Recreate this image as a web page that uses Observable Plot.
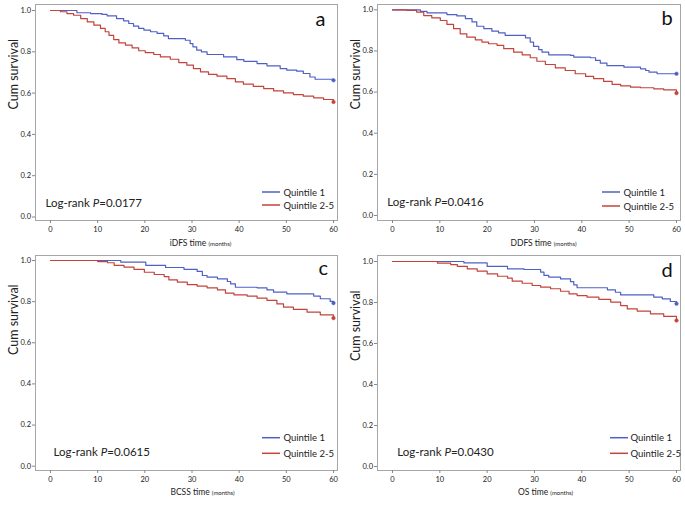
<!DOCTYPE html>
<html><head><meta charset="utf-8">
<script src="https://cdn.jsdelivr.net/npm/d3@7"></script>
<script src="https://cdn.jsdelivr.net/npm/@observablehq/plot@0.6"></script>
<style>
body{margin:0;background:#fff;}
#wrap{position:relative;width:685px;height:523px;background:#fff;}
#wrap > svg{position:absolute;}
</style></head><body><div id="wrap"></div>
<script>
// ---------- data ----------
const panelLetters = ["a", "b", "c", "d"];
const xTitles = ["iDFS time", "DDFS time", "BCSS time", "OS time"];
const xUnit = "(months)";
const pValues = ["0.0177", "0.0416", "0.0615", "0.0430"];
const seriesNames = ["Quintile 1", "Quintile 2-5"];
const yTitle = "Cum survival";
const xTicks = [0, 10, 20, 30, 40, 50, 60];
const yTicks = [0, 0.2, 0.4, 0.6, 0.8, 1.0];

const aQ1Time = [0,5.6,8.5,10.9,12,14,15.5,16.6,17.6,18.7,19.8,21.2,22.6,24,25,28.6,29.6,30.2,31,32,33.2,36.7,39.5,41,43.8,45.9,48.7,50.1,52.2,53.6,55,56.1,60];
const aQ1Surv = [1,0.989,0.985,0.981,0.974,0.961,0.95,0.937,0.924,0.913,0.905,0.897,0.889,0.877,0.864,0.856,0.84,0.824,0.808,0.8,0.787,0.775,0.762,0.754,0.743,0.732,0.719,0.711,0.706,0.695,0.678,0.667,0.662];
const aQ25Time = [0,2.1,3.5,4.9,6.4,7.8,9.2,10.6,11.6,12.4,13.4,14.5,15.9,17.3,18.7,20.1,21.9,23.3,25.4,27.2,28.9,30.3,31.8,33.5,35.3,37.4,39.2,40.9,43,45.2,47.3,49.4,51.5,53.6,55.8,57.9,60];
const aQ25Surv = [1,0.994,0.985,0.977,0.961,0.945,0.929,0.913,0.897,0.88,0.859,0.843,0.832,0.819,0.805,0.796,0.787,0.775,0.764,0.748,0.735,0.719,0.703,0.691,0.682,0.67,0.654,0.643,0.633,0.622,0.611,0.601,0.593,0.585,0.577,0.569,0.557];

const bQ1Time = [0,5.9,7.3,11.5,13.6,15.4,16.8,17.8,19.3,21,22.4,23.8,28.1,29.1,29.8,30.9,31.6,33,37.6,38.3,41.8,42.9,43.9,45.3,48.9,52.4,53.5,54.2,55.9,60];
const bQ1Surv = [1,0.992,0.985,0.977,0.97,0.957,0.941,0.92,0.908,0.896,0.888,0.876,0.864,0.843,0.822,0.806,0.794,0.781,0.778,0.77,0.767,0.754,0.741,0.729,0.721,0.713,0.705,0.697,0.689,0.689];
const bQ25Time = [0,3,5.1,6.6,8.3,10.1,11.5,12.9,14.3,15.7,17.5,18.9,20.3,22.1,23.5,25.6,27.4,29.1,30.5,32.3,34.4,36.5,38.6,40.8,42.5,44.6,46.4,48.2,50.3,52.4,55.2,57.3,60];
const bQ25Surv = [1,0.997,0.989,0.972,0.961,0.948,0.929,0.908,0.883,0.867,0.854,0.843,0.835,0.827,0.811,0.794,0.781,0.767,0.75,0.734,0.718,0.705,0.689,0.676,0.665,0.652,0.637,0.63,0.624,0.621,0.616,0.611,0.595];

const cQ1Time = [0,14.9,20.2,24.4,28.3,31.1,32.2,33.2,35.4,37.5,38.2,39.2,43.8,45.9,47.3,50.1,55.8,57.2,59.3,60];
const cQ1Surv = [1,0.992,0.976,0.966,0.957,0.947,0.927,0.919,0.911,0.898,0.886,0.87,0.867,0.857,0.846,0.838,0.827,0.814,0.801,0.793];
const cQ25Time = [0,10,12.1,13.5,15.6,17.7,19.9,22,24.1,25.1,26.9,29,31.1,33.2,35.4,37.1,38.9,41.7,43.8,45.9,48,49.4,51.5,54.4,57.2,60];
const cQ25Surv = [1,0.995,0.989,0.976,0.968,0.957,0.943,0.932,0.922,0.906,0.895,0.883,0.875,0.867,0.857,0.841,0.833,0.827,0.817,0.806,0.789,0.773,0.762,0.749,0.736,0.72];

const dQ1Time = [0,15.1,20,24.3,27.8,31.3,32,33,35.5,37.6,38.3,39,45.4,47.1,48.2,55.2,57,58.7,60];
const dQ1Surv = [1,0.993,0.976,0.964,0.961,0.948,0.932,0.924,0.915,0.902,0.886,0.872,0.862,0.85,0.837,0.826,0.818,0.805,0.794];
const dQ25Time = [0,9.5,12.3,13.7,15.8,17.9,20,22.2,24.3,25.3,27.4,29.5,31.3,33.4,35.5,37.3,39,41.1,43.6,46.1,48.2,49.6,51.7,54.5,57.3,60];
const dQ25Surv = [1,0.992,0.985,0.976,0.964,0.953,0.94,0.928,0.919,0.904,0.894,0.883,0.875,0.867,0.855,0.842,0.834,0.826,0.815,0.802,0.785,0.769,0.758,0.745,0.732,0.712];

// ---------- layout (pixels) ----------
const layout = [
  {left:0,   top:0,   width:342, height:253, mt:4, mb:33, insetT:6,   insetB:3.5, insetL:15, insetR:4, letter:[-17,15],   logrank:[10,-17],   xdx:14,   xdy:23, ydy:-3,
   leg:{x1:-75, x2:-57, tx:-54, y:[-28,-15]}},
  {left:342, top:0,   width:343, height:253, mt:4, mb:33, insetT:5.3, insetB:5,   insetL:15, insetR:4, letter:[-13.3,14], logrank:[9.7,-18.3], xdx:14.5, xdy:23, ydy:-3,
   leg:{x1:-78, x2:-60, tx:-57, y:[-28,-14]}},
  {left:0,   top:253, width:342, height:270, mt:2, mb:53, insetT:5,   insetB:4.3, insetL:15, insetR:4, letter:[-14.3,13], logrank:[18,-18.3], xdx:16,   xdy:22, ydy:-8,
   leg:{x1:-75, x2:-57, tx:-54, y:[-32.3,-16.7]}},
  {left:342, top:253, width:343, height:270, mt:2, mb:53, insetT:6,   insetB:4,   insetL:15, insetR:4, letter:[-13.3,15], logrank:[19.7,-18.3], xdx:16.5, xdy:22, ydy:-2,
   leg:{x1:-70, x2:-52, tx:-50, y:[-32.3,-16.7]}}
];
const colors = ["#4f60c4", "#c4433b"];
const FONT = "Lato, 'Open Sans', sans-serif";

const curves = [
  [[aQ1Time, aQ1Surv], [aQ25Time, aQ25Surv]],
  [[bQ1Time, bQ1Surv], [bQ25Time, bQ25Surv]],
  [[cQ1Time, cQ1Surv], [cQ25Time, cQ25Surv]],
  [[dQ1Time, dQ1Surv], [dQ25Time, dQ25Surv]]
];

const svgns = "http://www.w3.org/2000/svg";
const wrap = document.getElementById("wrap");

curves.forEach((pair, i) => {
  const L = layout[i];
  const rows = [];
  pair.forEach(([ts, ss], k) => ts.forEach((t, j) => rows.push({t, s: ss[j], series: seriesNames[k]})));
  const ends = pair.map(([ts, ss], k) => ({t: ts[ts.length - 1], s: ss[ss.length - 1], series: seriesNames[k]}));
  const logText = "Log-rank P=" + pValues[i];
  const xTitle = xTitles[i] + " " + xUnit;

  const svg = Plot.plot({
    width: L.width, height: L.height,
    marginLeft: 35, marginRight: 5, marginTop: L.mt, marginBottom: L.mb,
    style: {fontFamily: FONT, fontSize: "7.5px", color: "#222", background: "#fff"},
    x: {domain: [0, 60], insetLeft: L.insetL, insetRight: L.insetR},
    y: {domain: [0, 1], insetTop: L.insetT, insetBottom: L.insetB},
    color: {domain: seriesNames, range: colors},
    marks: [
      Plot.frame({stroke: "#a6a6a6"}),
      Plot.axisX({ticks: xTicks, tickSize: 3, tickPadding: 3, label: null, stroke: "#888", fill: "#222", fontSize: 7.5}),
      Plot.axisY({ticks: yTicks, tickSize: 3, tickPadding: 1.5, label: null, tickFormat: d3.format(".1f"), stroke: "#888", fill: "#222", fontSize: 7.5}),
      Plot.line(rows, {x: "t", y: "s", z: "series", stroke: "series", curve: "step-after", strokeWidth: 1.2}),
      Plot.dot(ends, {x: "t", y: "s", fill: "series", r: 1.8, stroke: "series", strokeWidth: 0.5}),
      Plot.text([yTitle], {text: d => d, frameAnchor: "left", rotate: -90, dx: -22, dy: L.ydy, fontSize: 12.5, fill: "#222"}),
      Plot.text([xTitle], {text: d => d, frameAnchor: "bottom", lineAnchor: "middle", dx: L.xdx, dy: L.xdy, fontSize: 8.5, fill: "#222"}),
      Plot.text([logText], {text: d => d, frameAnchor: "bottom-left", textAnchor: "start", lineAnchor: "middle", dx: L.logrank[0], dy: L.logrank[1], fontSize: 11.5, fill: "#222"}),
      Plot.text([panelLetters[i]], {text: d => d, frameAnchor: "top-right", textAnchor: "middle", lineAnchor: "middle", dx: L.letter[0], dy: L.letter[1], fontSize: 20, fill: "#111"}),
      ...seriesNames.map((n, k) => Plot.text([n], {text: d => d, frameAnchor: "bottom-right", textAnchor: "start", lineAnchor: "middle", dx: L.leg.tx, dy: L.leg.y[k], fontSize: 9.5, fill: "#222"}))
    ]
  });
  svg.style.left = L.left + "px";
  svg.style.top = L.top + "px";

  // rich-text formatting (italic P, small unit)
  svg.querySelectorAll("text").forEach(el => {
    if (el.textContent === logText) {
      el.textContent = "";
      [["Log-rank ", null], ["P", "italic"], ["=" + pValues[i], null]].forEach(([t, st]) => {
        const ts = document.createElementNS(svgns, "tspan");
        ts.textContent = t;
        if (st) ts.setAttribute("font-style", st);
        el.appendChild(ts);
      });
    } else if (el.textContent === xTitle) {
      el.textContent = "";
      const a = document.createElementNS(svgns, "tspan");
      a.textContent = xTitles[i] + " ";
      const b = document.createElementNS(svgns, "tspan");
      b.textContent = xUnit;
      b.setAttribute("font-size", "6px");
      el.appendChild(a); el.appendChild(b);
    }
  });

  // legend line swatches
  const fx2 = L.width - 5, fy2 = L.height - L.mb;
  const g = document.createElementNS(svgns, "g");
  seriesNames.forEach((n, k) => {
    const ln = document.createElementNS(svgns, "line");
    ln.setAttribute("x1", fx2 + L.leg.x1); ln.setAttribute("x2", fx2 + L.leg.x2);
    ln.setAttribute("y1", fy2 + L.leg.y[k]); ln.setAttribute("y2", fy2 + L.leg.y[k]);
    ln.setAttribute("stroke", colors[k]); ln.setAttribute("stroke-width", 1.5);
    g.appendChild(ln);
  });
  svg.appendChild(g);
  wrap.appendChild(svg);
});
</script></body></html>
